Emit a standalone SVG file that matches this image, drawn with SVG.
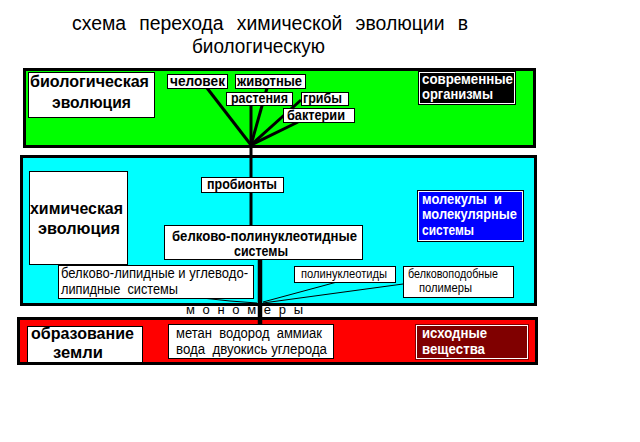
<svg xmlns="http://www.w3.org/2000/svg" width="640" height="442" viewBox="0 0 640 442">
<style>
text{font-family:"Liberation Sans",Arial,sans-serif;fill:#000}
.b{font-weight:bold;font-size:16.5px}
.s{font-weight:bold;font-size:14px}
.n{font-size:14px}
.m{font-size:13px}
.w{fill:#fff}
.panel{stroke:#000;stroke-width:3}
.box{fill:#fff;stroke:#000;stroke-width:1}
.dark{stroke:#fff;stroke-width:1}
.br{stroke:#000;stroke-width:3;fill:none;stroke-linecap:butt}
.thin{stroke:#000;stroke-width:1;fill:none}
</style>
<rect width="640" height="442" fill="#fff"/>
<g id="title">
<text x="72" y="30" font-size="20" word-spacing="8" textLength="396" lengthAdjust="spacingAndGlyphs">схема перехода химической эволюции в</text>
<text x="192" y="53" font-size="20" textLength="133" lengthAdjust="spacingAndGlyphs">биологическую</text>
</g>
<g id="panels">
<rect class="panel" x="24.5" y="69.5" width="510" height="77" fill="#00ff00"/>
<rect class="panel" x="21.5" y="156.5" width="514" height="148" fill="#00ffff"/>
<rect class="panel" x="18.5" y="318.5" width="518" height="45" fill="#ff0000"/>
</g>
<g id="connectors">
<line class="br" x1="207" y1="88" x2="251" y2="145"/>
<line class="br" x1="251" y1="104" x2="251" y2="226"/>
<line class="br" x1="267" y1="88" x2="251" y2="145"/>
<line class="br" x1="301" y1="100" x2="251" y2="145"/>
<line class="br" x1="298" y1="122" x2="251" y2="145"/>
<polyline class="thin" points="202,298 230,301 257,303"/>
<line class="thin" x1="263" y1="302" x2="337" y2="282"/>
<line class="thin" x1="263" y1="303" x2="403" y2="284"/>
</g>
<g id="bio-label">
<rect class="box" x="28.5" y="72.5" width="126" height="45"/>
<text class="b" x="30" y="87" textLength="119" lengthAdjust="spacingAndGlyphs">биологическая</text>
<text class="b" x="52" y="108" textLength="79" lengthAdjust="spacingAndGlyphs">эволюция</text>
</g>
<g id="chelovek">
<rect class="box" x="167.5" y="74.5" width="60" height="14"/>
<text class="s" x="170" y="86" textLength="55" lengthAdjust="spacingAndGlyphs">человек</text>
</g>
<g id="zhivotnye">
<rect class="box" x="235.5" y="74.5" width="70" height="14"/>
<text class="s" x="237" y="86" textLength="65" lengthAdjust="spacingAndGlyphs">животные</text>
</g>
<g id="rasteniya">
<rect class="box" x="226.5" y="92.5" width="66" height="13"/>
<text class="s" x="231" y="103" textLength="57" lengthAdjust="spacingAndGlyphs">растения</text>
</g>
<g id="griby">
<rect class="box" x="301.5" y="92.5" width="47" height="13"/>
<text class="s" x="303" y="103" textLength="39" lengthAdjust="spacingAndGlyphs">грибы</text>
</g>
<g id="bakterii">
<rect class="box" x="283.5" y="108.5" width="71" height="14"/>
<text class="s" x="287" y="120" textLength="58" lengthAdjust="spacingAndGlyphs">бактерии</text>
</g>
<g id="sovremennye">
<rect x="418.5" y="71.5" width="97" height="33" fill="#000" stroke="#000"/>
<rect class="dark" x="419.5" y="72.5" width="95" height="31" fill="#000"/>
<text class="s w" x="422" y="84" textLength="91" lengthAdjust="spacingAndGlyphs">современные</text>
<text class="s w" x="422" y="99" textLength="71" lengthAdjust="spacingAndGlyphs">организмы</text>
</g>
<g id="chem-label">
<rect class="box" x="29.5" y="171.5" width="98" height="93"/>
<text class="b" x="30" y="214" textLength="93" lengthAdjust="spacingAndGlyphs">химическая</text>
<text class="b" x="38" y="234" textLength="82" lengthAdjust="spacingAndGlyphs">эволюция</text>
</g>
<g id="probionty">
<rect class="box" x="201.5" y="177.5" width="82" height="15"/>
<text class="s" x="207" y="189" textLength="70" lengthAdjust="spacingAndGlyphs">пробионты</text>
</g>
<g id="molekuly">
<rect x="417.5" y="190.5" width="106" height="51" fill="#0000ff" stroke="#000"/>
<rect class="dark" x="418.5" y="191.5" width="104" height="49" fill="#0000ff"/>
<text class="s w" x="422" y="204" textLength="80" lengthAdjust="spacingAndGlyphs" xml:space="preserve">молекулы  и</text>
<text class="s w" x="422" y="219" textLength="95" lengthAdjust="spacingAndGlyphs">молекулярные</text>
<text class="s w" x="422" y="235" textLength="52" lengthAdjust="spacingAndGlyphs">системы</text>
</g>
<g id="belkovo-polinukleotidnye">
<rect class="box" x="164.5" y="225.5" width="198" height="34"/>
<text class="s" x="172" y="241" textLength="185" lengthAdjust="spacingAndGlyphs">белково-полинуклеотидные</text>
<text class="s" x="234" y="256" textLength="54" lengthAdjust="spacingAndGlyphs">системы</text>
</g>
<g id="lipidnye">
<rect class="box" x="58.5" y="265.5" width="195" height="33"/>
<text class="n" x="61" y="278" textLength="187" lengthAdjust="spacingAndGlyphs">белково-липидные и углеводо-</text>
<text class="n" x="61" y="294" textLength="117" lengthAdjust="spacingAndGlyphs" xml:space="preserve">липидные  системы</text>
</g>
<g id="polinukleotidy">
<rect class="box" x="294.5" y="266.5" width="101" height="16"/>
<text class="m" x="301" y="278" textLength="86" lengthAdjust="spacingAndGlyphs">полинуклеотиды</text>
</g>
<g id="belkovopodobnye">
<rect class="box" x="403.5" y="266.5" width="110" height="31"/>
<text class="m" x="408" y="278" textLength="90" lengthAdjust="spacingAndGlyphs">белковоподобные</text>
<text class="m" x="419" y="292" textLength="53" lengthAdjust="spacingAndGlyphs">полимеры</text>
</g>
<g id="monomery">
<text class="m" x="186" y="314" textLength="117" lengthAdjust="spacing">м о н о м е р ы</text>
</g>
<g id="trunk">
<line stroke="#000" stroke-width="4.5" x1="260" y1="260" x2="260" y2="324"/>
</g>
<g id="obrazovanie">
<rect class="box" x="27.5" y="326.5" width="115" height="36"/>
<text class="b" x="31" y="339" textLength="103" lengthAdjust="spacingAndGlyphs">образование</text>
<text class="b" x="53" y="358" textLength="50" lengthAdjust="spacingAndGlyphs">земли</text>
</g>
<g id="metan">
<rect class="box" x="168.5" y="324.5" width="165" height="34"/>
<text class="n" x="176" y="338" textLength="146" lengthAdjust="spacingAndGlyphs" xml:space="preserve">метан  водород  аммиак</text>
<text class="n" x="176" y="354" textLength="151" lengthAdjust="spacingAndGlyphs" xml:space="preserve">вода  двуокись углерода</text>
</g>
<g id="iskhodnye">
<rect x="415.5" y="324.5" width="113" height="35" fill="#800000" stroke="#800000"/>
<rect class="dark" x="416.5" y="325.5" width="111" height="33" fill="#800000"/>
<text class="s w" x="422" y="338" textLength="65" lengthAdjust="spacingAndGlyphs">исходные</text>
<text class="s w" x="422" y="354" textLength="63" lengthAdjust="spacingAndGlyphs">вещества</text>
</g>
</svg>
